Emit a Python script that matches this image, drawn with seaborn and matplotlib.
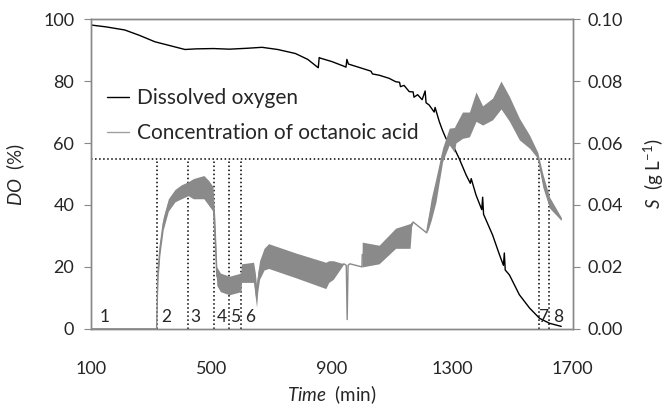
import numpy as np
import pandas as pd
import matplotlib
matplotlib.use("Agg")
import matplotlib.pyplot as plt
import seaborn as sns

# Dissolved oxygen (%)
do_time = [100, 150, 212, 260, 312, 360, 412, 450, 507, 560, 620, 668, 720, 779,
           820, 855, 858, 862, 900, 940, 947, 950, 955, 1001, 1030, 1035, 1057,
           1090, 1112, 1125, 1128, 1140, 1157, 1170, 1173, 1185, 1200, 1210, 1213,
           1223, 1240, 1243, 1257, 1268, 1279, 1290, 1307, 1323, 1346, 1360, 1363,
           1379, 1398, 1401, 1404, 1434, 1457, 1470, 1473, 1476, 1490, 1523, 1557,
           1590, 1623, 1662]
do_value = [98.1, 97.5, 96.5, 94.8, 92.7, 91.5, 90.2, 90.4, 90.5, 90.3, 90.6, 90.9, 90.2, 88.9,
            87.0, 84.3, 87.6, 87.4, 86.3, 84.8, 84.5, 87.0, 85.5, 84.1, 83.2, 82.3, 81.9,
            80.9, 79.8, 79.6, 78.2, 78.6, 76.6, 76.5, 74.8, 75.6, 74.0, 76.8, 73.0,
            72.3, 70.0, 71.5, 66.9, 64.0, 61.5, 59.9, 58.3, 55.0, 49.7, 47.0, 48.5,
            43.2, 38.5, 42.5, 37.0, 30.3, 23.9, 20.5, 24.5, 19.0, 17.4, 11.0, 6.7,
            3.4, 1.8, 0.8]

# Octanoic acid (g/L): lower / upper envelope of the oscillating trace
s_time = [100, 318, 320, 322, 329, 340, 357, 379, 400, 423, 440, 457, 475, 490, 505,
          512, 518, 530, 560, 598, 600, 640, 646, 650, 654, 660, 675, 690, 780, 880,
          890, 905, 940, 948, 951, 954, 960, 1000, 1001, 1057, 1112, 1160, 1165, 1170,
          1215, 1220, 1230, 1246, 1268, 1290, 1307, 1312, 1334, 1357, 1379, 1401, 1434,
          1462, 1490, 1523, 1557, 1584, 1601, 1623, 1662]
s_low = [0.0, 0.0, 8.0, 15.0, 24.0, 32.0, 38.0, 41.0, 42.0, 43.0, 42.0, 42.0, 42.0, 40.0, 38.0,
         25.0, 14.0, 12.0, 11.0, 12.0, 15.0, 15.0, 10.0, 7.0, 12.0, 16.0, 19.0, 19.5, 16.5, 13.0,
         15.0, 16.0, 21.0, 20.5, 3.0, 20.5, 21.0, 20.0, 20.0, 21.0, 26.0, 26.0, 33.0, 34.5,
         31.0, 32.0, 35.0, 41.0, 54.0, 59.4, 57.0, 60.0, 61.5, 62.0, 67.0, 65.8, 67.5,
         71.0, 67.0, 61.0, 58.3, 55.0, 45.7, 39.0, 35.0]
s_high = [0.0, 0.0, 8.0, 20.0, 28.0, 36.0, 42.0, 45.0, 46.5, 47.5, 48.5, 49.0, 49.5, 48.0, 46.0,
          35.0, 20.0, 18.0, 17.0, 18.0, 21.0, 21.5, 18.0, 14.0, 18.0, 22.0, 26.0, 27.5, 24.5, 21.5,
          22.0, 22.0, 21.0, 20.5, 3.0, 20.5, 21.0, 20.0, 28.0, 27.0, 32.5, 34.0, 34.5, 34.5,
          31.0, 36.0, 42.0, 48.7, 58.4, 64.8, 65.0, 66.0, 70.0, 70.0, 76.5, 72.0, 74.5,
          80.0, 75.0, 68.0, 62.5, 57.0, 50.0, 42.6, 36.0]

phase_bounds = [318, 422, 510, 560, 599, 1588, 1621]
phase_labels = ["1", "2", "3", "4", "5", "6", "7", "8"]
phase_label_x = [145, 350, 447, 535, 580, 630, 1603, 1652]
do_threshold = 55

do_df = pd.DataFrame({"time": do_time, "do": do_value})
s_df = pd.DataFrame({"time": s_time,
                     "low": np.array(s_low) / 1000,
                     "high": np.array(s_high) / 1000})
s_df["mid"] = (s_df["low"] + s_df["high"]) / 2

sns.set_style("white")
plt.rcParams["font.family"] = ["Lato", "DejaVu Sans"]
plt.rcParams["mathtext.fontset"] = "custom"
plt.rcParams["mathtext.rm"] = "Lato"
plt.rcParams["mathtext.it"] = "Lato:italic"

spine_col = "#888888"
gray = "#8a8a8a"

fig, ax = plt.subplots(figsize=(6.69, 4.07), dpi=100)
fig.subplots_adjust(left=0.136, right=0.856, bottom=0.192, top=0.953)
ax2 = ax.twinx()

# Octanoic acid on the right axis
ax2.fill_between(s_df["time"], s_df["low"], s_df["high"], color=gray, lw=0)
sns.lineplot(data=s_df, x="time", y="mid", ax=ax2, color=gray, lw=1,
             estimator=None, sort=False, label="Concentration of octanoic acid", legend=False)

# Dissolved oxygen on the left axis
sns.lineplot(data=do_df, x="time", y="do", ax=ax, color="black", lw=1,
             estimator=None, sort=False, label="Dissolved oxygen", legend=False)

# Phase markers
ax.axhline(do_threshold, color="black", ls=":", lw=1.1)
ax.vlines(phase_bounds, 0, do_threshold, colors="black", linestyles=":", lw=1.1)
for lab, xp in zip(phase_labels, phase_label_x):
    ax.text(xp, 1.2, lab, ha="center", va="bottom", fontsize=12.5)

ax.set_xlim(100, 1700)
ax.set_ylim(0, 100)
ax2.set_ylim(0, 0.10)
ax.set_xticks([100, 500, 900, 1300, 1700])
ax.set_yticks([0, 20, 40, 60, 80, 100])
ax2.set_yticks([0, 0.02, 0.04, 0.06, 0.08, 0.10])
ax2.set_yticklabels(["0.00", "0.02", "0.04", "0.06", "0.08", "0.10"])

for a in (ax, ax2):
    a.tick_params(axis="both", which="both", direction="out", length=5,
                  color=spine_col, labelsize=13)
    for sp in a.spines.values():
        sp.set_color(spine_col)
        sp.set_linewidth(1)
ax.tick_params(axis="y", right=False, pad=7)
ax.tick_params(axis="x", pad=18)
ax2.tick_params(axis="y", left=False, pad=6)

ax.set_xlabel(r"$\it{Time}$  (min)", fontsize=13.5, labelpad=5)
ax.set_ylabel(r"$\it{DO}$  (%)", fontsize=13.5, labelpad=12)
ax2.set_ylabel(r"$\it{S}$  (g L$^{-1}$)", fontsize=13.5, labelpad=13)

h1, l1 = ax.get_legend_handles_labels()
h2, l2 = ax2.get_legend_handles_labels()
leg = ax.legend(h1 + h2, l1 + l2, loc="upper left", bbox_to_anchor=(0.015, 0.805),
                frameon=False, fontsize=15, handlelength=1.1, handletextpad=0.35,
                labelspacing=0.75, borderaxespad=0)
leg.get_lines()[1].set_color("#a0a0a0")

fig.savefig("out.png", dpi=100)
